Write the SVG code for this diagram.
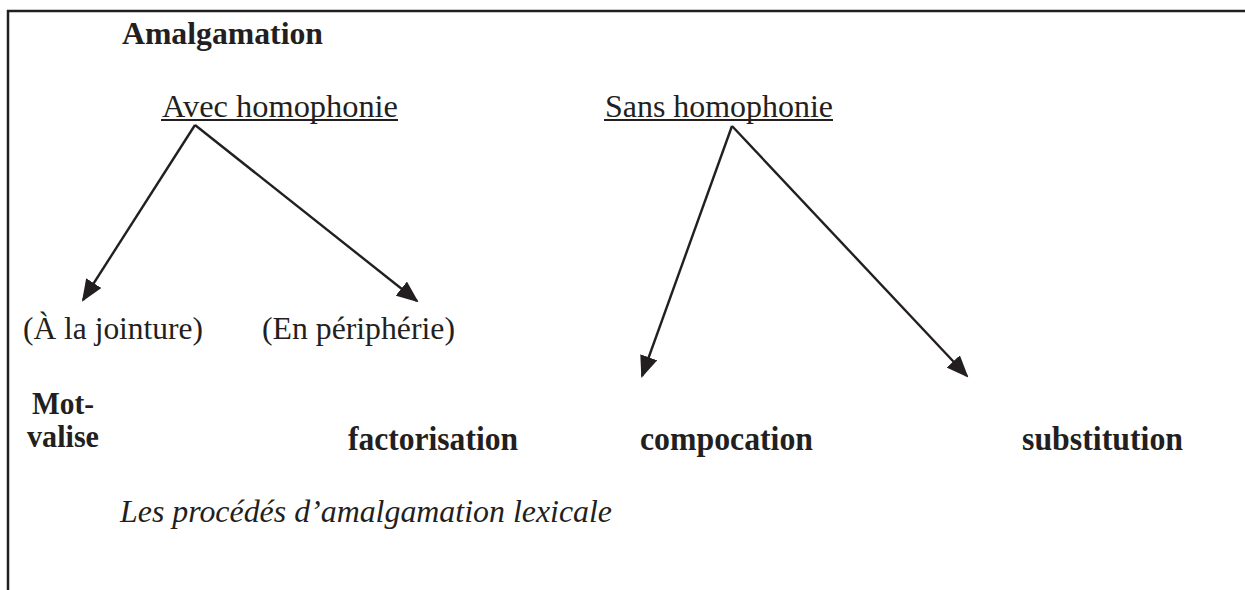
<svg xmlns="http://www.w3.org/2000/svg" width="1245" height="590" viewBox="0 0 1245 590">
<style>
text{font-family:"Liberation Serif","Times New Roman",serif;font-size:32px;fill:#231f20}
.b{font-weight:bold}
.w{font-size:33px}
.mv{font-size:31px}
.i{font-style:italic}
.frame{stroke:#231f20;stroke-width:2.5;fill:none}
.ul{stroke:#231f20;stroke-width:2}
.conn line{stroke:#231f20;stroke-width:2.4;fill:none}
</style>
<defs>
<marker id="ah" markerUnits="userSpaceOnUse" markerWidth="22" markerHeight="18" viewBox="0 0 22 18" refX="20" refY="9" orient="auto">
<path d="M0,0 L22,9 L0,18 Z" fill="#231f20"/>
</marker>
</defs>
<rect width="1245" height="590" fill="#fff"/>
<g id="frame">
<line class="frame" x1="8" y1="10" x2="8" y2="590"/>
<line class="frame" x1="7" y1="11" x2="1245" y2="11"/>
</g>
<g id="n-amalgamation"><text class="b" x="122" y="44" textLength="201" lengthAdjust="spacingAndGlyphs">Amalgamation</text></g>
<g id="n-avec"><text x="162" y="117" textLength="236" lengthAdjust="spacingAndGlyphs">Avec homophonie</text><line class="ul" x1="161" y1="120" x2="398" y2="120"/></g>
<g id="n-sans"><text x="605" y="117" textLength="228" lengthAdjust="spacingAndGlyphs">Sans homophonie</text><line class="ul" x1="604" y1="120" x2="833" y2="120"/></g>
<g id="n-jointure"><text x="23" y="339" textLength="180" lengthAdjust="spacingAndGlyphs">(À la jointure)</text></g>
<g id="n-peripherie"><text x="262" y="339" textLength="193" lengthAdjust="spacingAndGlyphs">(En périphérie)</text></g>
<g id="n-motvalise"><text class="b mv" x="32" y="414" textLength="62" lengthAdjust="spacingAndGlyphs">Mot-</text><text class="b mv" x="27" y="447" textLength="72" lengthAdjust="spacingAndGlyphs">valise</text></g>
<g id="n-factorisation"><text class="b w" x="348" y="450" textLength="170" lengthAdjust="spacingAndGlyphs">factorisation</text></g>
<g id="n-compocation"><text class="b w" x="640" y="450" textLength="173" lengthAdjust="spacingAndGlyphs">compocation</text></g>
<g id="n-substitution"><text class="b w" x="1022" y="450" textLength="161" lengthAdjust="spacingAndGlyphs">substitution</text></g>
<g id="caption"><text class="i" x="120" y="522" textLength="492" lengthAdjust="spacingAndGlyphs">Les procédés d’amalgamation lexicale</text></g>
<g id="connectors" class="conn">
<line x1="195" y1="125" x2="83" y2="300" marker-end="url(#ah)"/>
<line x1="195" y1="125" x2="417" y2="301" marker-end="url(#ah)"/>
<line x1="732" y1="126" x2="642" y2="376" marker-end="url(#ah)"/>
<line x1="732" y1="126" x2="967" y2="376" marker-end="url(#ah)"/>
</g>
</svg>
